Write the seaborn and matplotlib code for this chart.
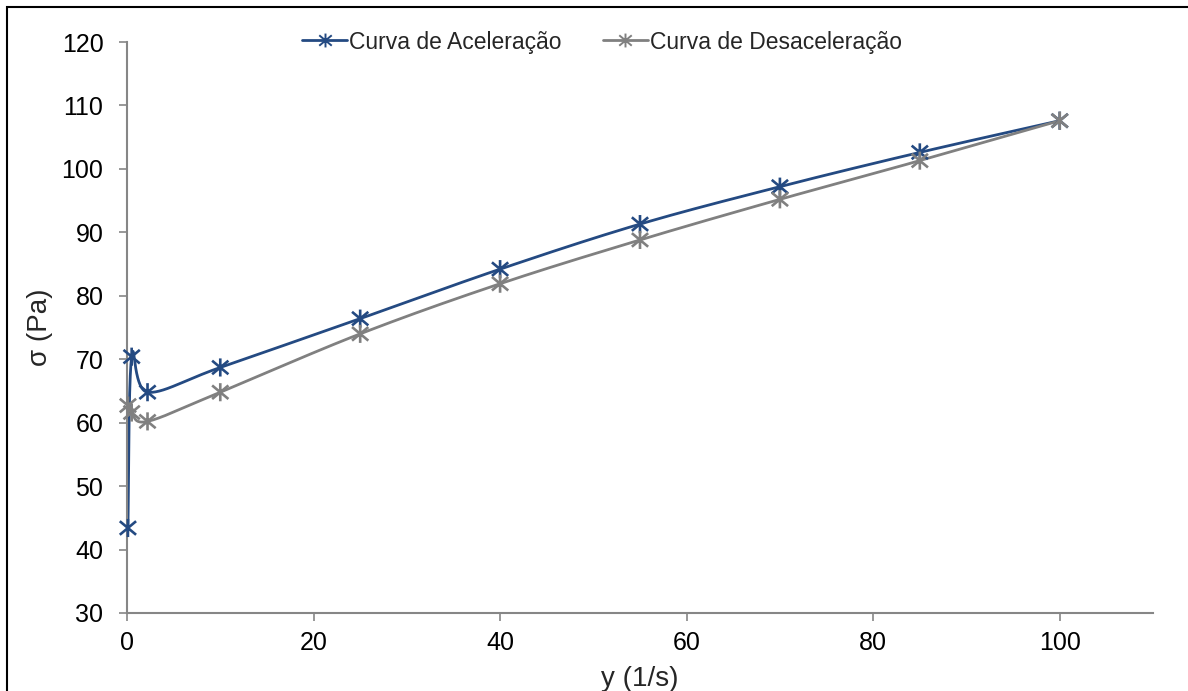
import numpy as np
import pandas as pd
import matplotlib
matplotlib.use("Agg")
import matplotlib.pyplot as plt
from matplotlib.lines import Line2D
from matplotlib.patches import Rectangle
from matplotlib.path import Path
import seaborn as sns

# Shear-rate sweep: up (acceleration) and down (deceleration)
shear_accel = [0.1, 0.5, 2.2, 10, 25, 40, 55, 70, 85, 100]
stress_accel = [43.4, 70.4, 64.8, 68.7, 76.4, 84.2, 91.3, 97.2, 102.6, 107.6]
shear_decel = [100, 85, 70, 55, 40, 25, 10, 2.2, 0.5, 0.1]
stress_decel = [107.6, 101.3, 95.2, 88.8, 81.9, 74.0, 64.8, 60.2, 61.6, 62.7]

series_names = ["Curva de Aceleração", "Curva de Desaceleração"]
series_colors = ["#244A82", "#808080"]

x_ticks = [0, 20, 40, 60, 80, 100]
y_ticks = [30, 40, 50, 60, 70, 80, 90, 100, 110, 120]

sns.set_theme(style="white")
plt.rcParams["font.family"] = ["Liberation Sans", "DejaVu Sans"]

W, H = 1188, 691
fig = plt.figure(figsize=(W / 100, H / 100), dpi=100)
ax = fig.add_axes([127 / W, (H - 613) / H, (1153 - 127) / W, (613 - 42) / H])
ax.set_xlim(0, 110)
ax.set_ylim(30, 120)


def smooth_curve(ax, xs, ys, n=60):
    """Bezier smoothing through the points, computed in display space."""
    pts = ax.transData.transform(np.column_stack([xs, ys]))
    p = np.vstack([pts[0], pts, pts[-1]])
    t = np.linspace(0, 1, n)[:, None]
    segs = []
    for i in range(1, len(p) - 2):
        p0, p1, p2, p3 = p[i - 1], p[i], p[i + 1], p[i + 2]
        c1 = p1 + (p2 - p0) / 6
        c2 = p2 - (p3 - p1) / 6
        b = ((1 - t) ** 3) * p1 + 3 * ((1 - t) ** 2) * t * c1 \
            + 3 * (1 - t) * (t ** 2) * c2 + (t ** 3) * p2
        segs.append(b if i == 1 else b[1:])
    out = ax.transData.inverted().transform(np.vstack(segs))
    return out[:, 0], out[:, 1]


# Asterisk marker: an X crossed by a vertical bar
dx, dy = 0.9, 0.75
star = Path(
    [(-dx, -dy), (dx, dy), (-dx, dy), (dx, -dy), (0, -1), (0, 1)],
    [Path.MOVETO, Path.LINETO, Path.MOVETO, Path.LINETO,
     Path.MOVETO, Path.LINETO],
)

for xs, ys, col in [(shear_accel, stress_accel, series_colors[0]),
                    (shear_decel, stress_decel, series_colors[1])]:
    sx, sy = smooth_curve(ax, xs, ys)
    curve = pd.DataFrame({"x": sx, "y": sy})
    sns.lineplot(data=curve, x="x", y="y", sort=False, estimator=None,
                 color=col, linewidth=2.0, ax=ax, clip_on=False)
    pts = pd.DataFrame({"x": xs, "y": ys})
    sns.scatterplot(data=pts, x="x", y="y", marker=star, s=170,
                    facecolor="none", edgecolor=col, linewidth=1.9,
                    ax=ax, zorder=3, clip_on=False)

ax.set_xticks(x_ticks)
ax.set_yticks(y_ticks)
ax.tick_params(axis="both", direction="out", length=6, width=1.2,
               color="#868686", labelsize=18, labelcolor="black")
ax.tick_params(axis="y", pad=11)
ax.tick_params(axis="x", pad=7)
ax.tick_params(left=True, bottom=True)

for side in ["top", "right"]:
    ax.spines[side].set_visible(False)
for side in ["left", "bottom"]:
    ax.spines[side].set_color("#868686")
    ax.spines[side].set_linewidth(1.5)

ax.set_xlabel("y (1/s)", fontsize=20)
ax.set_ylabel("σ (Pa)", fontsize=20)
ax.xaxis.set_label_coords(0.5, -0.115)
ax.xaxis.label.set_va("center")
ax.yaxis.set_label_coords(-0.085, 0.5)
ax.yaxis.label.set_va("center")

handles = [Line2D([0], [0], color=c, lw=2.0, marker=star, markersize=10,
                  markeredgewidth=1.4, markerfacecolor="none")
           for c in series_colors]
ax.legend(handles, series_names, loc="center", bbox_to_anchor=(0.463, 1.0),
          ncol=2, frameon=False, fontsize=16.5, handlelength=1.95,
          handletextpad=0.1, columnspacing=1.8)

# Outer chart border
fig.add_artist(Rectangle((7 / W, -0.1), 2.0, 1 - 7 / H + 0.1,
                         transform=fig.transFigure, fill=False,
                         edgecolor="black", linewidth=1.5))

fig.savefig("out.png", dpi=100)
